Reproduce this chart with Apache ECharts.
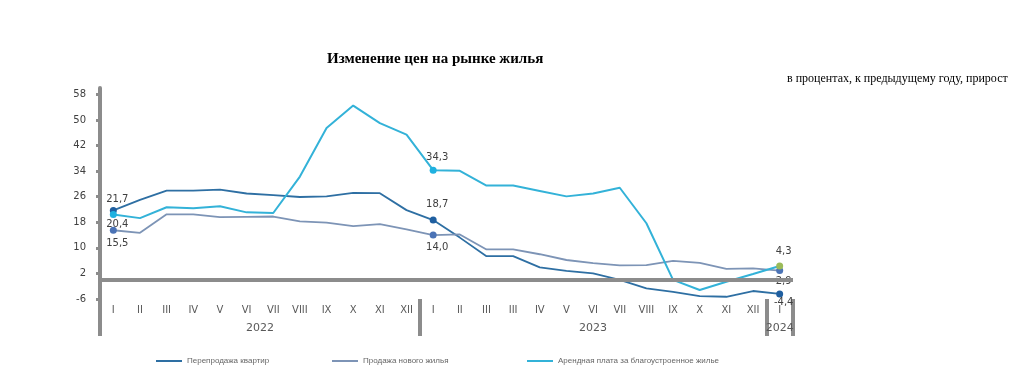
<!DOCTYPE html>
<html>
<head>
<meta charset="utf-8">
<script src="https://cdn.jsdelivr.net/npm/echarts@6/dist/echarts.min.js"></script>
<style>
html,body{margin:0;padding:0;background:#fff;}
#chart{width:1024px;height:374px;}
</style>
</head>
<body>
<div id="chart"></div>
<script>
// ---- data ----
const categories = ['2022-I','2022-II','2022-III','2022-IV','2022-V','2022-VI','2022-VII','2022-VIII','2022-IX','2022-X','2022-XI','2022-XII',
  '2023-I','2023-II','2023-III','2023-III*','2023-IV','2023-V','2023-VI','2023-VII','2023-VIII','2023-IX','2023-X','2023-XI','2023-XII','2024-I'];
const monthLabels = ['I','II','III','IV','V','VI','VII','VIII','IX','X','XI','XII',
  'I','II','III','III','IV','V','VI','VII','VIII','IX','X','XI','XII','I'];
const yearLabels = ['2022','2023','2024'];
const yearSpans = [12, 13, 1];
const yTicks = [-6, 2, 10, 18, 26, 34, 42, 50, 58];
const seriesNames = ['Перепродажа квартир','Продажа нового жилья','Арендная плата за благоустроенное жилье'];
const resale = [21.7, 25.0, 27.9, 27.9, 28.2, 27.0, 26.5, 25.9, 26.1, 27.2, 27.1, 21.8, 18.7, 13.2, 7.4, 7.4, 3.9, 2.8, 2.0, 0.0, -2.7, -3.8, -5.1, -5.3, -3.5, -4.4];
const newSales = [15.5, 14.7, 20.5, 20.5, 19.6, 19.7, 19.8, 18.3, 17.9, 16.8, 17.4, 15.8, 14.0, 14.2, 9.5, 9.5, 8.0, 6.2, 5.2, 4.5, 4.6, 5.9, 5.3, 3.4, 3.6, 2.9];
const rent = [20.4, 19.3, 22.7, 22.4, 23.0, 21.1, 20.9, 32.3, 47.5, 54.5, 49.0, 45.4, 34.3, 34.1, 29.5, 29.5, 27.8, 26.1, 27.0, 28.8, 17.7, 0.0, -3.2, -0.6, 1.8, 4.3];

// ---- styling ----
const lineColors = ['#2e6fa3', '#7d94b6', '#33b2d8'];
const markerColors = [
  {0:'#1f5fa0', 12:'#1f5fa0', 25:'#1f5fa0'},
  {0:'#4b73b6', 12:'#4b73b6', 25:'#4b73b6'},
  {0:'#1fb1e0', 12:'#1fb1e0', 25:'#9bbb59'}
];
const labelPos = [
  {0:['top',3], 12:['top',7], 25:['bottom',0]},
  {0:['bottom',5], 12:['bottom',4], 25:['bottom',2]},
  {0:['bottom',1], 12:['top',4], 25:['top',6]}
];
const fmt = v => v.toFixed(1).replace('.', ',');

function buildData(values, s) {
  return values.map((v, i) => {
    if (labelPos[s][i]) {
      return {
        value: v,
        symbol: 'circle',
        symbolSize: 7,
        itemStyle: { color: markerColors[s][i] },
        label: {
          show: true,
          position: labelPos[s][i][0],
          distance: labelPos[s][i][1],
          offset: [4, 0],
          formatter: p => fmt(p.value),
          fontFamily: 'DejaVu Sans',
          fontSize: 10,
          color: '#404040'
        }
      };
    }
    return { value: v };
  });
}

// year axis: half-category positions
const halfCount = categories.length * 2 + 1;
const halfCats = [];
for (let k = 0; k < halfCount; k++) halfCats.push('h' + k);
const yearText = {};
const sepIdx = {};
let start = 0;
yearLabels.forEach((y, gi) => {
  sepIdx[2 * start] = true;
  yearText[2 * start + yearSpans[gi]] = y;
  start += yearSpans[gi];
});
sepIdx[2 * start] = true;

const allValues = [resale, newSales, rent];

const option = {
  animation: false,
  title: [
    { text: 'Изменение цен на рынке жилья', left: 322, top: 47,
      textStyle: { fontFamily: 'Liberation Serif', fontWeight: 'bold', fontSize: 15, color: '#000' } },
    { text: 'в процентах, к предыдущему году, прирост', left: 782, top: 68,
      textStyle: { fontFamily: 'Liberation Serif', fontWeight: 'normal', fontSize: 12, color: '#000' } }
  ],
  legend: [0, 1, 2].map((s, i) => ({
    data: [seriesNames[s]],
    left: [151, 327, 522][i],
    top: 352,
    icon: 'rect',
    itemWidth: 26,
    itemHeight: 2,
    itemGap: 0,
    textStyle: { fontFamily: 'Liberation Sans', fontSize: 8, color: '#666' }
  })),
  grid: { left: 100, right: 231, top: 88, bottom: 75, containLabel: false },
  xAxis: [
    {
      type: 'category',
      data: categories,
      boundaryGap: true,
      axisLine: { show: false },
      axisTick: { show: false },
      axisLabel: {
        interval: 0, margin: 6,
        formatter: (v, i) => monthLabels[i],
        fontFamily: 'DejaVu Sans', fontSize: 10, color: '#595959'
      },
      splitLine: { show: false }
    },
    {
      type: 'category',
      data: halfCats,
      position: 'bottom',
      boundaryGap: false,
      axisLine: { show: false },
      axisTick: {
        show: true, length: 37, inside: false,
        interval: (idx) => !!sepIdx[idx],
        lineStyle: { color: '#8c8c8c', width: 4 }
      },
      axisLabel: {
        interval: 0, margin: 24,
        formatter: (v, i) => yearText[i] || '',
        fontFamily: 'DejaVu Sans', fontSize: 11, color: '#595959'
      },
      splitLine: { show: false }
    }
  ],
  yAxis: {
    type: 'value',
    min: -6,
    max: 60,
    axisLine: { show: true, lineStyle: { color: '#8c8c8c', width: 4 } },
    axisTick: { show: true, customValues: yTicks, length: 4, lineStyle: { color: '#8c8c8c', width: 3 } },
    axisLabel: { customValues: yTicks, margin: 14, fontFamily: 'DejaVu Sans', fontSize: 10, color: '#404040' },
    splitLine: { show: false }
  },
  series: allValues.map((vals, s) => ({
    name: seriesNames[s],
    type: 'line',
    xAxisIndex: 0,
    data: buildData(vals, s),
    symbol: 'none',
    showSymbol: true,
    color: lineColors[s],
    itemStyle: { color: lineColors[s] },
    lineStyle: { color: lineColors[s], width: s === 2 ? 2 : 1.8 },
    z: 3,
    markLine: s === 0 ? {
      silent: true,
      symbol: ['none', 'none'],
      label: { show: false },
      lineStyle: { color: '#8c8c8c', width: 4, type: 'solid' },
      data: [{ yAxis: 0 }],
      z: 4
    } : undefined
  }))
};

const chart = echarts.init(document.getElementById('chart'), null, { renderer: 'canvas' });
chart.setOption(option);
</script>
</body>
</html>
